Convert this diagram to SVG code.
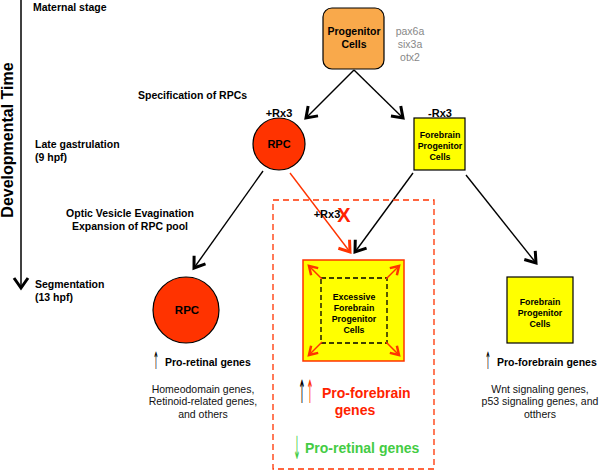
<svg xmlns="http://www.w3.org/2000/svg" width="600" height="473" viewBox="0 0 600 473">
<style>
text{font-family:"Liberation Sans",Arial,sans-serif;}
.b{font-weight:bold;fill:#000;}
.lab{font-size:10.5px;font-weight:bold;}
.node{font-weight:bold;text-anchor:middle;}
.reg{font-size:10.5px;text-anchor:middle;fill:#111;}
.gray{font-size:10.5px;fill:#888;text-anchor:middle;}
.arr{font-family:"DejaVu Sans",sans-serif;font-weight:normal;text-anchor:middle;}
.conn{stroke:#000;stroke-width:1.4;fill:none;}
.red{stroke:#ff3300;}
</style>
<defs>
<marker id="ab" markerUnits="userSpaceOnUse" markerWidth="20" markerHeight="20" viewBox="-12 -10 14 20" refX="0" refY="0" orient="auto">
<path d="M-10,-7 L0,0 L-10,7" fill="none" stroke="#000" stroke-width="3" stroke-linejoin="miter"/>
</marker>
<marker id="ar" markerUnits="userSpaceOnUse" markerWidth="20" markerHeight="20" viewBox="-12 -10 14 20" refX="0" refY="0" orient="auto">
<path d="M-10,-7 L0,0 L-10,7" fill="none" stroke="#ff3300" stroke-width="3" stroke-linejoin="miter"/>
</marker>
<marker id="ac" markerUnits="userSpaceOnUse" markerWidth="16" markerHeight="16" viewBox="-10 -8 12 16" refX="0" refY="0" orient="auto">
<path d="M-8,-5 L0,0 L-8,5" fill="none" stroke="#ff3300" stroke-width="2.5"/>
</marker>
</defs>
<rect width="600" height="473" fill="#fff"/>

<g id="timeline">
<line x1="21" y1="0" x2="21" y2="288" stroke="#000" stroke-width="1.5" marker-end="url(#ab)"/>
<text class="b" font-size="16" transform="translate(13,140) rotate(-90)" text-anchor="middle">Developmental Time</text>
<text class="lab" x="33" y="11">Maternal stage</text>
<text class="lab" x="138" y="99">Specification of RPCs</text>
<text class="lab" x="35" y="148">Late gastrulation</text>
<text class="lab" x="35" y="161">(9 hpf)</text>
<text class="lab" x="130" y="217" text-anchor="middle">Optic Vesicle Evagination</text>
<text class="lab" x="130" y="230" text-anchor="middle">Expansion of RPC pool</text>
<text class="lab" x="35" y="288">Segmentation</text>
<text class="lab" x="35" y="301">(13 hpf)</text>
</g>

<g id="connectors">
<line class="conn" x1="354" y1="70" x2="306" y2="118" marker-end="url(#ab)"/>
<line class="conn" x1="354" y1="70" x2="403" y2="118" marker-end="url(#ab)"/>
<line class="conn" x1="263" y1="171" x2="194" y2="268" marker-end="url(#ab)"/>
<line class="conn red" x1="290" y1="173" x2="350" y2="252" marker-end="url(#ar)"/>
<line class="conn" x1="413" y1="173" x2="355" y2="252" marker-end="url(#ab)"/>
<line class="conn" x1="466" y1="175" x2="536" y2="263" marker-end="url(#ab)"/>
</g>

<g id="progenitor">
<rect x="323" y="8" width="61" height="61" rx="9" fill="#f9a94b" stroke="#000" stroke-width="1.2"/>
<text class="node" x="354" y="35" font-size="10.5">Progenitor</text>
<text class="node" x="354" y="48" font-size="10.5">Cells</text>
<text class="gray" x="410" y="35">pax6a</text>
<text class="gray" x="410" y="48">six3a</text>
<text class="gray" x="410" y="61">otx2</text>
</g>

<g id="rpc1">
<text class="node" x="279" y="117" font-size="11">+Rx3</text>
<circle cx="279" cy="144" r="26" fill="#ff3300" stroke="#000" stroke-width="1.2"/>
<text class="node" x="279" y="148" font-size="11">RPC</text>
</g>

<g id="forebrain1">
<text class="node" x="440" y="117" font-size="11">-Rx3</text>
<rect x="414" y="118" width="51" height="52" fill="#ffff00" stroke="#000" stroke-width="1.2"/>
<text class="node" x="440" y="138" font-size="8.8">Forebrain</text>
<text class="node" x="440" y="149" font-size="8.8">Progenitor</text>
<text class="node" x="440" y="160" font-size="8.8">Cells</text>
</g>

<g id="rpc2">
<circle cx="186" cy="310" r="33" fill="#ff3300" stroke="#000" stroke-width="1.2"/>
<text class="node" x="187" y="314" font-size="11.5">RPC</text>
<text class="arr" transform="translate(156,369) scale(0.5,1.7)" font-size="14" fill="#000">↑</text>
<text class="lab" x="165" y="366">Pro-retinal genes</text>
<text class="reg" x="203" y="393">Homeodomain genes,</text>
<text class="reg" x="203" y="405">Retinoid-related genes,</text>
<text class="reg" x="203" y="418">and others</text>
</g>

<g id="excess">
<rect x="273" y="200" width="161" height="269" fill="none" stroke="#ff3300" stroke-width="1.3" stroke-dasharray="6,4"/>
<text class="node" x="327" y="218" font-size="11" text-anchor="start">+Rx3</text>
<text x="344" y="222" font-size="20" font-weight="bold" fill="#ff2200" text-anchor="middle">X</text>
<rect x="303" y="260" width="101" height="101" fill="#ffff00" stroke="#ff3300" stroke-width="1.5"/>
<rect x="321" y="278" width="66" height="65" fill="none" stroke="#000" stroke-width="1.3" stroke-dasharray="5,3"/>
<line x1="322" y1="279" x2="309" y2="266" stroke="#ff3300" stroke-width="1.5" marker-end="url(#ac)"/>
<line x1="386" y1="279" x2="399" y2="266" stroke="#ff3300" stroke-width="1.5" marker-end="url(#ac)"/>
<line x1="322" y1="342" x2="309" y2="355" stroke="#ff3300" stroke-width="1.5" marker-end="url(#ac)"/>
<line x1="386" y1="342" x2="399" y2="355" stroke="#ff3300" stroke-width="1.5" marker-end="url(#ac)"/>
<text class="node" x="354" y="300" font-size="8.8">Excessive</text>
<text class="node" x="354" y="311" font-size="8.8">Forebrain</text>
<text class="node" x="354" y="322" font-size="8.8">Progenitor</text>
<text class="node" x="354" y="333" font-size="8.8">Cells</text>
<text class="arr" transform="translate(302,403) scale(0.55,2)" font-size="16" fill="#000">↑</text>
<text class="arr" transform="translate(310,403) scale(0.55,2)" font-size="16" fill="#ff3300">↑</text>
<text x="322" y="398" font-size="14" font-weight="bold" fill="#ff2200">Pro-forebrain</text>
<text x="355" y="415" font-size="14" font-weight="bold" fill="#ff2200" text-anchor="middle">genes</text>
<text class="arr" transform="translate(297,459) scale(0.55,2)" font-size="16" fill="#44cc44">↓</text>
<text x="305" y="453" font-size="14" font-weight="bold" fill="#44cc44">Pro-retinal genes</text>
</g>

<g id="forebrain2">
<rect x="507" y="277" width="66" height="66" fill="#ffff00" stroke="#000" stroke-width="1.2"/>
<text class="node" x="540" y="305" font-size="8.8">Forebrain</text>
<text class="node" x="540" y="316" font-size="8.8">Progenitor</text>
<text class="node" x="540" y="327" font-size="8.8">Cells</text>
<text class="arr" transform="translate(488,369) scale(0.5,1.7)" font-size="14" fill="#000">↑</text>
<text class="lab" x="497" y="366">Pro-forebrain genes</text>
<text class="reg" x="540" y="393">Wnt signaling genes,</text>
<text class="reg" x="540" y="405">p53 signaling genes, and</text>
<text class="reg" x="540" y="418">otthers</text>
</g>
</svg>
